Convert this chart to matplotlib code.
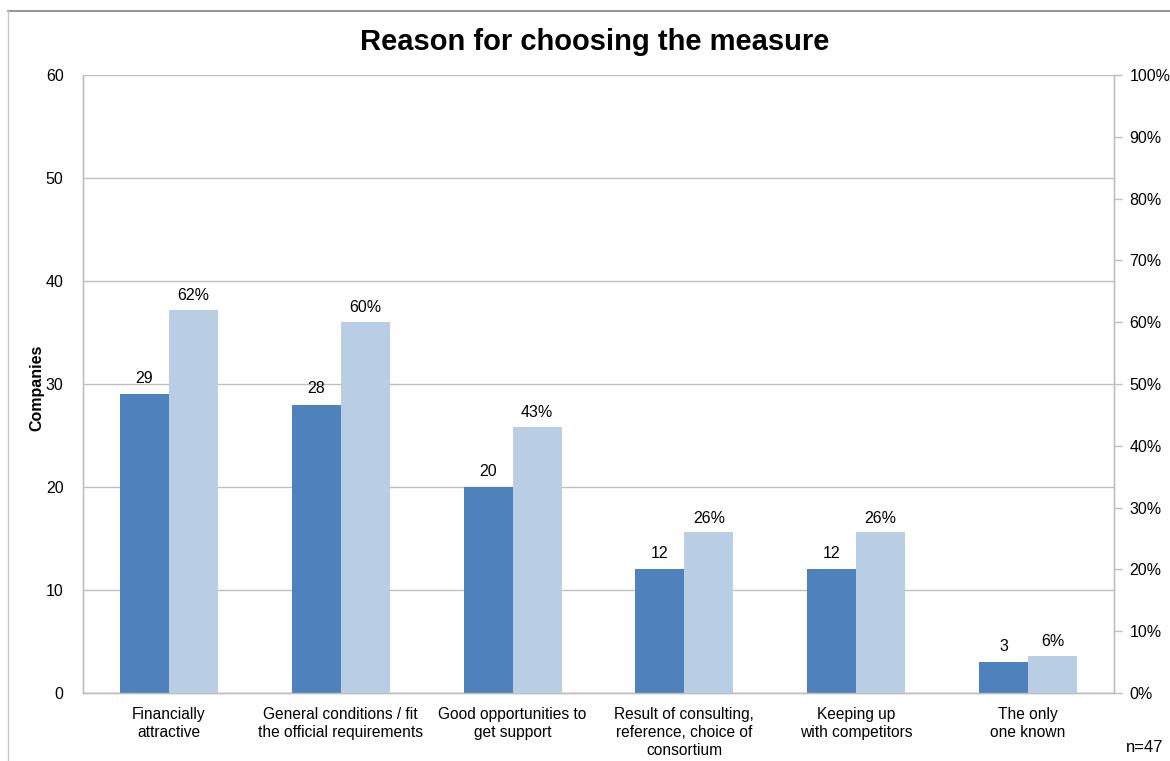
import matplotlib
matplotlib.use("Agg")
import matplotlib.pyplot as plt
from matplotlib.lines import Line2D
import numpy as np

plt.rcParams['font.family'] = ['Liberation Sans', 'DejaVu Sans']

categories = [
    "Financially\nattractive",
    "General conditions / fit\nthe official requirements",
    "Good opportunities to\nget support",
    "Result of consulting,\nreference, choice of\nconsortium",
    "Keeping up\nwith competitors",
    "The only\none known",
]
companies = [29, 28, 20, 12, 12, 3]
shares = [62, 60, 43, 26, 26, 6]  # percent of n=47
n_total = 47

left_ticks = [0, 10, 20, 30, 40, 50, 60]
right_ticks = [0, 10, 20, 30, 40, 50, 60, 70, 80, 90, 100]

dark = "#4F81BD"
light = "#B9CDE5"
grid_c = "#BFBFBF"

fig = plt.figure(figsize=(11.7, 7.61), dpi=100)
ax = fig.add_axes([83/1170, 1-693/761, (1114-83)/1170, (693-75)/761])
ax2 = ax.twinx()

x = np.arange(len(categories))
w = 0.285

b1 = ax.bar(x - w/2, companies, width=w, color=dark, zorder=3)
b2 = ax2.bar(x + w/2, shares, width=w, color=light, zorder=3)

ax.set_xlim(-0.5, len(categories) - 0.5)
ax.set_ylim(0, 60)
ax2.set_ylim(0, 100)
ax.set_yticks(left_ticks)
ax2.set_yticks(right_ticks)
ax2.set_yticklabels([f"{t}%" for t in right_ticks])

ax.yaxis.grid(True, color=grid_c, linewidth=1, zorder=0)
ax.set_axisbelow(True)

for a in (ax, ax2):
    for s in a.spines.values():
        s.set_color(grid_c)
        s.set_linewidth(1)
    a.spines['top'].set_visible(False)

ax.tick_params(axis='y', length=0, pad=14, labelsize=11.5, colors='black')
ax2.tick_params(axis='y', length=6, width=1, color=grid_c, pad=5, labelsize=11.5, labelcolor='black')
ax.set_xticks(x)
ax.set_xticklabels(categories, fontsize=11.2, linespacing=1.25)
ax.tick_params(axis='x', length=0, pad=10)

# y-axis title placed in figure coordinates
fig.text(37/1170, 1-388/761, "Companies", rotation=90, ha='center', va='center',
         fontsize=11.5, fontweight='bold')

for rect, v in zip(b1, companies):
    ax.text(rect.get_x() + rect.get_width()/2, v + 0.8, f"{v}",
            ha='center', va='bottom', fontsize=11.5, zorder=4)
for rect, v in zip(b2, shares):
    ax2.text(rect.get_x() + rect.get_width()/2, v + 1.1, f"{v}%",
             ha='center', va='bottom', fontsize=11.5, zorder=4)

fig.text(595/1170, 1-42/761, "Reason for choosing the measure",
         ha='center', va='center', fontsize=21, fontweight='bold')
fig.text(1145/1170, 1-748/761, f"n={n_total}", ha='center', va='center', fontsize=12)

# outer chart frame (top and left edges)
fig.add_artist(Line2D([8/1170, 1], [1-11/761, 1-11/761], transform=fig.transFigure,
                      color="#808080", linewidth=1.2))
fig.add_artist(Line2D([8/1170, 8/1170], [0, 1-11/761], transform=fig.transFigure,
                      color="#C8C8C8", linewidth=1))

fig.savefig("out.png", dpi=100)
